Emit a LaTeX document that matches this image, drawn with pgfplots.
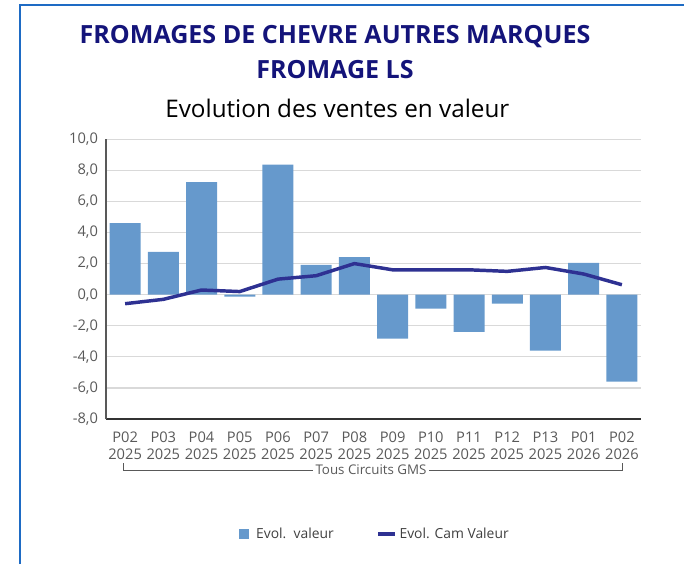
\documentclass[border=0pt]{standalone}
\usepackage{pgfplots}
\pgfplotsset{compat=1.18}
\usepackage{fontspec}
\setmainfont{Open Sans}

\definecolor{barBlue}{HTML}{6699CC}
\definecolor{lineNavy}{HTML}{2E3192}
\definecolor{titleNavy}{HTML}{14147A}
\definecolor{frameBlue}{HTML}{1E6BC4}
\definecolor{tickGray}{HTML}{595959}
\definecolor{legGray}{HTML}{404040}
\definecolor{gridGray}{HTML}{D9D9D9}

\begin{document}
\begin{tikzpicture}
% page = 684 x 564 px, 1 px = 0.75 pt
\path[use as bounding box] (0,0) rectangle (513pt,423pt);
\draw[frameBlue, line width=1.5pt] (15pt,0) -- (15pt,419.25pt) -- (513pt,419.25pt);

% titres
\node[text=titleNavy, font=\fontsize{18.8}{22}\selectfont\bfseries] at (251.25pt,395.25pt) {FROMAGES DE CHEVRE AUTRES MARQUES};
\node[text=titleNavy, font=\fontsize{18.8}{22}\selectfont\bfseries] at (251.25pt,370.5pt) {FROMAGE LS};
\node[text=black, font=\fontsize{18.2}{21}\selectfont] at (253pt,342pt) {Evolution des ventes en valeur};

\begin{axis}[
    at={(79.5pt,108.75pt)}, anchor=south west,
    scale only axis, width=401.25pt, height=209.8pt,
    xmin=-0.5, xmax=13.5,
    ymin=-8, ymax=10,
    ytick={-8,-6,...,10},
    xtick={0,...,13},
    xticklabels={{\strut P02\\2025},{\strut P03\\2025},{\strut P04\\2025},{\strut P05\\2025},{\strut P06\\2025},{\strut P07\\2025},{\strut P08\\2025},
                 {\strut P09\\2025},{\strut P10\\2025},{\strut P11\\2025},{\strut P12\\2025},{\strut P13\\2025},{\strut P01\\2026},{\strut P02\\2026}},
    axis lines*=left,
    y axis line style={draw=tickGray, line width=0.9pt},
    x axis line style={draw=black!80, line width=0.9pt},
    major tick length=0pt,
    ymajorgrids=true,
    grid style={draw=gridGray, line width=0.9pt},
    /pgf/number format/.cd, fixed, fixed zerofill, precision=1, use comma, assume math mode=true,
    /pgfplots/.cd,
    yticklabel style={font=\fontsize{11}{13}\selectfont, text=tickGray, xshift=-2.5pt},
    xticklabel style={font=\fontsize{11}{12.75}\selectfont, text=tickGray, align=center, yshift=-5pt},
    legend columns=2,
    legend style={at={(0.503,-0.411)}, anchor=center, draw=none, fill=none,
        font=\fontsize{10.4}{12}\selectfont, text=legGray,
        /tikz/every even column/.append style={column sep=30pt}},
    clip=false,
]

% Evol. valeur
\addplot[ybar, bar width=23.25pt, bar shift=0pt, fill=barBlue, draw=none,
    legend image code/.code={\fill[barBlue] (0pt,-3.75pt) rectangle (7.5pt,3.75pt); \path (11pt,0pt);}]
coordinates {
    (0,4.6) (1,2.75) (2,7.25) (3,-0.13) (4,8.37) (5,1.91) (6,2.42)
    (7,-2.83) (8,-0.9) (9,-2.4) (10,-0.58) (11,-3.6) (12,2.04) (13,-5.6)
};
\addlegendentry{Evol.\ \ valeur}

% Evol. Cam Valeur
\addplot[lineNavy, line width=2.6pt, no marks,
    legend image code/.code={\draw[lineNavy, line width=2.6pt] (0pt,0pt) -- (12.75pt,0pt);}]
coordinates {
    (0,-0.58) (1,-0.3) (2,0.3) (3,0.2) (4,1.0) (5,1.22) (6,2.0)
    (7,1.6) (8,1.6) (9,1.6) (10,1.5) (11,1.75) (12,1.33) (13,0.64)
};
\addlegendentry{Evol. Cam Valeur}

\end{axis}

% accolade Tous Circuits GMS
\draw[tickGray, line width=0.6pt] (92.25pt,75.75pt) -- (92.25pt,70.5pt) -- (466.5pt,70.5pt) -- (466.5pt,75.75pt);
\node[fill=white, text=tickGray, font=\fontsize{10}{12}\selectfont, inner xsep=2pt, inner ysep=1pt] at (278.25pt,71pt) {Tous Circuits GMS};
\end{tikzpicture}
\end{document}
